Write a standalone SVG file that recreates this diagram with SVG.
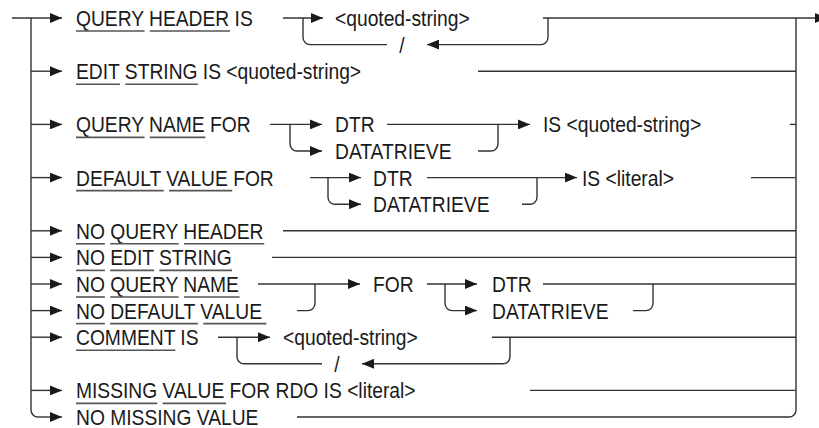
<svg xmlns="http://www.w3.org/2000/svg" width="819" height="428" viewBox="0 0 819 428">
<defs>
<marker id="arr" viewBox="0 0 12 10" refX="12" refY="5" markerWidth="12" markerHeight="10" markerUnits="userSpaceOnUse" orient="auto">
<path d="M0,0 L12,5 L0,10 z" fill="#1a1a1a"/>
</marker>
<style>
.t{font-family:"Liberation Sans",Arial,sans-serif;font-size:22px;fill:#1a1a1a}
.c{fill:none;stroke:#333;stroke-width:1.4}
.a{marker-end:url(#arr)}
.u{stroke:#555;stroke-width:1.6}
</style>
</defs>
<rect width="819" height="428" fill="#fff"/>
<g id="connectors">
<path class="c a" d="M12,18 H62"/>
<path class="c" d="M31,18 V410 A7,7 0 0 0 38,417"/>
<path class="c a" d="M38,417 H62"/>
<path class="c a" d="M31,71.2 H62"/>
<path class="c a" d="M31,124.4 H62"/>
<path class="c a" d="M31,177.6 H62"/>
<path class="c a" d="M31,230.8 H62"/>
<path class="c a" d="M31,257.4 H62"/>
<path class="c a" d="M31,284 H62"/>
<path class="c a" d="M31,310.6 H62"/>
<path class="c a" d="M31,337.2 H62"/>
<path class="c a" d="M31,390.4 H62"/>
<path class="c" d="M796,18 V410 A7,7 0 0 1 789,417 H297"/>
<path class="c a" d="M543,18 H827"/>
<path class="c a" d="M283,18 H323"/>
<path class="c" d="M303,18 V37.6 A7,7 0 0 0 310,44.6 H387"/>
<path class="c a" d="M548,18 V37.6 A7,7 0 0 1 541,44.6 H427"/>
<path class="c" d="M478,71.2 H796"/>
<path class="c a" d="M270,124.4 H322"/>
<path class="c a" d="M290,124.4 V144 A7,7 0 0 0 297,151 H322"/>
<path class="c a" d="M387,124.4 H530"/>
<path class="c" d="M478,151 H491 A7,7 0 0 0 498,144 V124.4"/>
<path class="c" d="M790,124.4 H796"/>
<path class="c a" d="M310,177.6 H361"/>
<path class="c a" d="M328,177.6 V197.2 A7,7 0 0 0 335,204.2 H361"/>
<path class="c a" d="M427,177.6 H577"/>
<path class="c" d="M522,204.2 H530 A7,7 0 0 0 537,197.2 V177.6"/>
<path class="c" d="M751,177.6 H796"/>
<path class="c" d="M283,230.8 H796"/>
<path class="c" d="M272,257.4 H796"/>
<path class="c a" d="M258,284 H360"/>
<path class="c" d="M297,310.6 H308 A7,7 0 0 0 315,303.6 V284"/>
<path class="c a" d="M427,284 H477"/>
<path class="c a" d="M445,284 V303.6 A7,7 0 0 0 452,310.6 H477"/>
<path class="c" d="M543,284 H796"/>
<path class="c" d="M633,310.6 H646 A7,7 0 0 0 653,303.6 V284"/>
<path class="c a" d="M218,337.2 H270"/>
<path class="c" d="M237,337.2 V356.8 A7,7 0 0 0 244,363.8 H322"/>
<path class="c a" d="M510,337.2 V356.8 A7,7 0 0 1 503,363.8 H362"/>
<path class="c" d="M492,337.2 H796"/>
<path class="c" d="M530,390.4 H796"/>
</g>
<g id="query-header">
<text class="t" transform="translate(76 25.9) scale(.875 1)">QUERY HEADER IS</text>
<line class="u" x1="76" y1="31" x2="144.5" y2="31"/><line class="u" x1="149.8" y1="31" x2="230" y2="31"/>
</g>
<g id="qh-string"><text class="t" transform="translate(335 25.9) scale(.875 1)">&lt;quoted-string&gt;</text></g>
<g id="qh-slash"><text class="t" text-anchor="middle" transform="translate(402 52.5) scale(.875 1)">/</text></g>
<g id="edit-string">
<text class="t" transform="translate(76 79.1) scale(.875 1)">EDIT STRING IS &lt;quoted-string&gt;</text>
<line class="u" x1="76" y1="84.2" x2="119.9" y2="84.2"/><line class="u" x1="125.2" y1="84.2" x2="197.9" y2="84.2"/>
</g>
<g id="query-name">
<text class="t" transform="translate(76 132.3) scale(.875 1)">QUERY NAME FOR</text>
<line class="u" x1="76" y1="137.4" x2="144.5" y2="137.4"/><line class="u" x1="149.8" y1="137.4" x2="205.4" y2="137.4"/>
</g>
<g id="qn-dtr"><text class="t" transform="translate(335 132.3) scale(.875 1)">DTR</text></g>
<g id="qn-datatrieve"><text class="t" transform="translate(335 158.9) scale(.875 1)">DATATRIEVE</text></g>
<g id="qn-is"><text class="t" transform="translate(543 132.3) scale(.875 1)">IS &lt;quoted-string&gt;</text></g>
<g id="default-value">
<text class="t" transform="translate(76 185.5) scale(.875 1)">DEFAULT VALUE FOR</text>
<line class="u" x1="76" y1="190.6" x2="163.7" y2="190.6"/><line class="u" x1="169.1" y1="190.6" x2="232.2" y2="190.6"/>
</g>
<g id="dv-dtr"><text class="t" transform="translate(373 185.5) scale(.875 1)">DTR</text></g>
<g id="dv-datatrieve"><text class="t" transform="translate(373 212.1) scale(.875 1)">DATATRIEVE</text></g>
<g id="dv-is"><text class="t" transform="translate(582 185.5) scale(.875 1)">IS &lt;literal&gt;</text></g>
<g id="no-query-header">
<text class="t" transform="translate(76 238.7) scale(.875 1)">NO QUERY HEADER</text>
<line class="u" x1="76" y1="243.8" x2="104.9" y2="243.8"/><line class="u" x1="110.2" y1="243.8" x2="178.7" y2="243.8"/><line class="u" x1="184" y1="243.8" x2="264.2" y2="243.8"/>
</g>
<g id="no-edit-string">
<text class="t" transform="translate(76 265.3) scale(.875 1)">NO EDIT STRING</text>
<line class="u" x1="76" y1="270.4" x2="104.9" y2="270.4"/><line class="u" x1="110.2" y1="270.4" x2="154.1" y2="270.4"/><line class="u" x1="159.4" y1="270.4" x2="232.1" y2="270.4"/>
</g>
<g id="no-query-name">
<text class="t" transform="translate(76 291.9) scale(.875 1)">NO QUERY NAME</text>
<line class="u" x1="76" y1="297" x2="104.9" y2="297"/><line class="u" x1="110.2" y1="297" x2="178.7" y2="297"/><line class="u" x1="184" y1="297" x2="239.6" y2="297"/>
</g>
<g id="no-default-value">
<text class="t" transform="translate(76 318.5) scale(.875 1)">NO DEFAULT VALUE</text>
<line class="u" x1="76" y1="323.6" x2="104.9" y2="323.6"/><line class="u" x1="110.2" y1="323.6" x2="197.9" y2="323.6"/><line class="u" x1="203.3" y1="323.6" x2="266.4" y2="323.6"/>
</g>
<g id="for"><text class="t" transform="translate(373 291.9) scale(.875 1)">FOR</text></g>
<g id="for-dtr"><text class="t" transform="translate(492 291.9) scale(.875 1)">DTR</text></g>
<g id="for-datatrieve"><text class="t" transform="translate(492 318.5) scale(.875 1)">DATATRIEVE</text></g>
<g id="comment">
<text class="t" transform="translate(76 345.1) scale(.875 1)">COMMENT IS</text>
<line class="u" x1="76" y1="350.2" x2="175.4" y2="350.2"/>
</g>
<g id="cm-string"><text class="t" transform="translate(283 345.1) scale(.875 1)">&lt;quoted-string&gt;</text></g>
<g id="cm-slash"><text class="t" text-anchor="middle" transform="translate(337 371.7) scale(.875 1)">/</text></g>
<g id="missing-value">
<text class="t" transform="translate(76 398.3) scale(.875 1)">MISSING VALUE FOR RDO IS &lt;literal&gt;</text>
<line class="u" x1="76" y1="403.4" x2="157.3" y2="403.4"/><line class="u" x1="162.6" y1="403.4" x2="226" y2="403.4"/>
</g>
<g id="no-missing-value">
<text class="t" transform="translate(76 424.9) scale(.875 1)">NO MISSING VALUE</text>
</g>
</svg>
